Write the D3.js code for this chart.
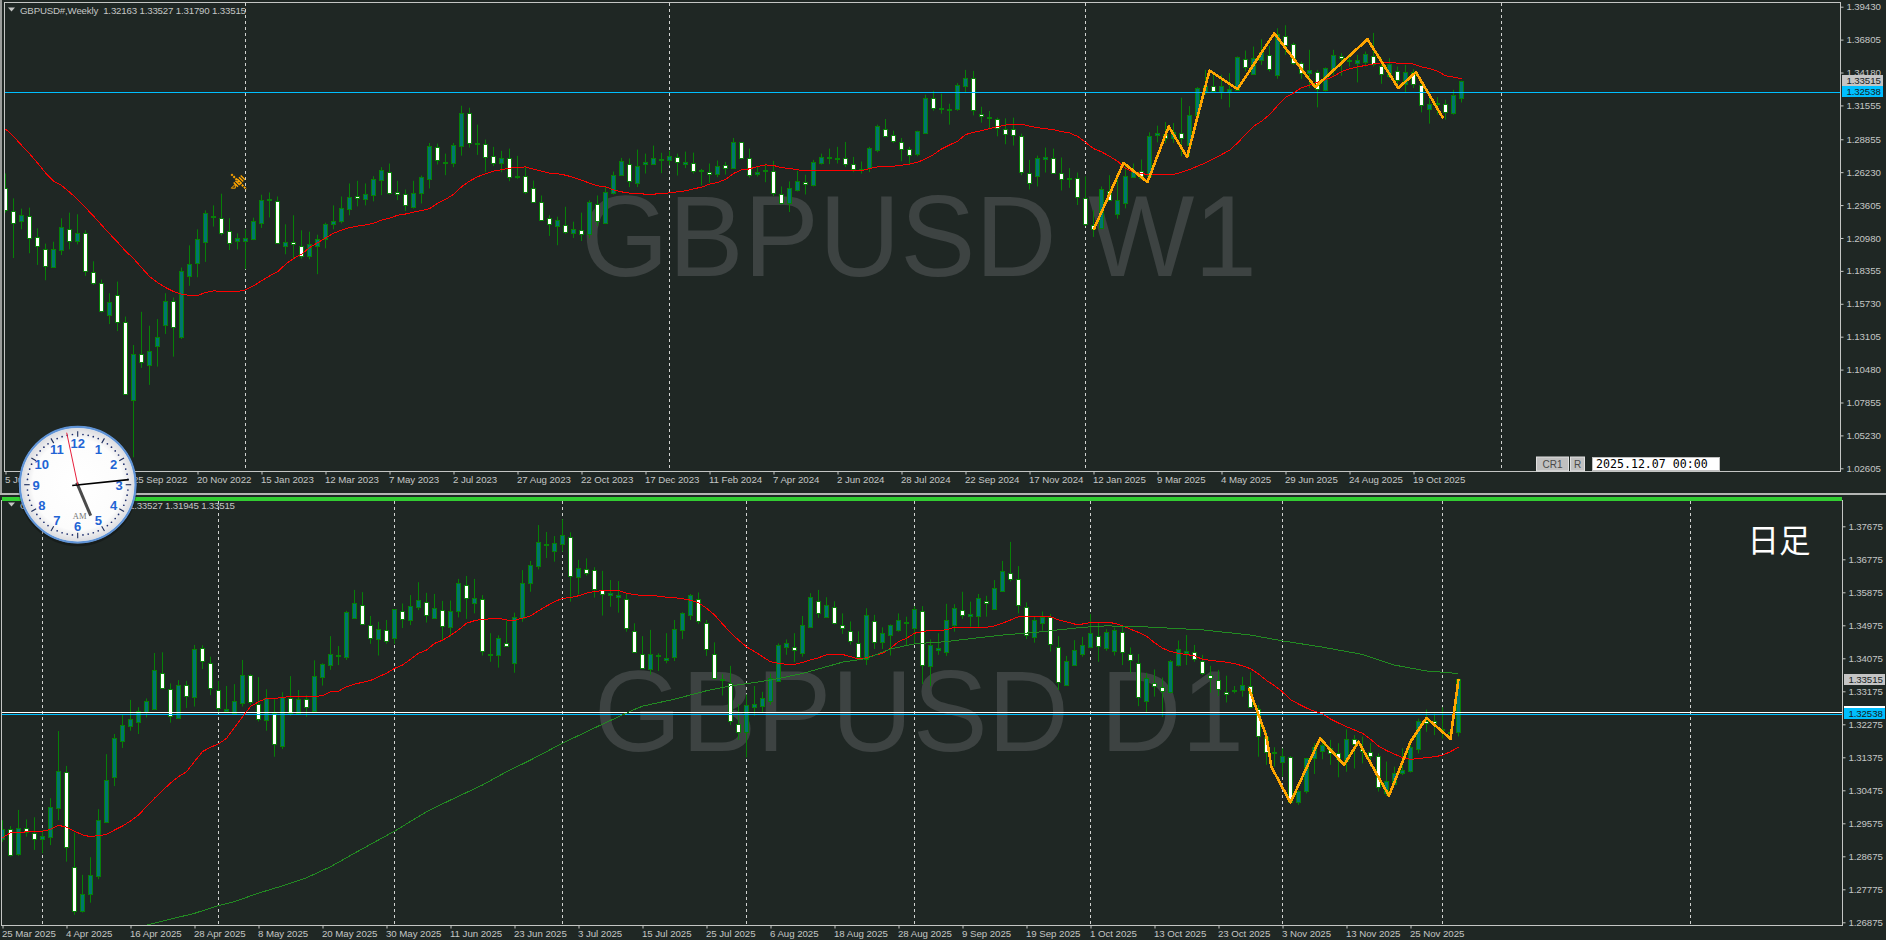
<!DOCTYPE html>
<html><head><meta charset="utf-8">
<script src="https://cdn.jsdelivr.net/npm/d3@7"></script>
<style>html,body{margin:0;padding:0;background:#1f2724;overflow:hidden}svg{display:block}</style>
</head><body><svg id="c" width="1886" height="940"></svg>
<script>
const weeklyOpen=[1.2496,1.2313,1.2234,1.2273,1.2108,1.2013,1.1870,1.2002,1.2173,1.2074,
1.2140,1.1827,1.1740,1.1485,1.1644,1.1424,1.0809,1.1170,1.1088,1.1239,
1.1406,1.1596,1.1310,1.1795,1.1899,1.2068,1.2268,1.2257,1.2153,1.2076,
1.2076,1.2087,1.2220,1.2400,1.2392,1.2037,1.2066,1.2034,1.1955,1.2034,
1.2092,1.2209,1.2233,1.2331,1.2432,1.2411,1.2440,1.2560,1.2628,1.2464,
1.2448,1.2345,1.2458,1.2570,1.2822,1.2697,1.2694,1.2832,1.3092,1.2848,
1.2846,1.2750,1.2694,1.2737,1.2583,1.2591,1.2496,1.2384,1.2257,1.2196,
1.2201,1.2137,1.2161,1.2132,1.2368,1.2217,1.2456,1.2599,1.2687,1.2536,
1.2689,1.2687,1.2721,1.2718,1.2742,1.2687,1.2697,1.2636,1.2623,1.2610,
1.2679,1.2657,1.2861,1.2734,1.2607,1.2634,1.2631,1.2448,1.2376,1.2480,
1.2543,1.2520,1.2694,1.2734,1.2729,1.2734,1.2687,1.2639,1.2655,1.2798,
1.2965,1.2917,1.2861,1.2806,1.2766,1.2933,1.3211,1.3129,1.3116,1.3124,
1.3307,1.3371,1.3084,1.3052,1.3045,1.2965,1.2965,1.2912,1.2618,1.2594,
1.2729,1.2737,1.2618,1.2570,1.2578,1.2419,1.2204,1.2180,1.2472,1.2292,
1.2376,1.2583,1.2631,1.2591,1.2920,1.2930,1.2899,1.2933,1.2838,1.3082,
1.3262,1.3307,1.3265,1.3259,1.3280,1.3522,1.3408,1.3519,1.3561,1.3402,
1.3707,1.3649,1.3493,1.3418,1.3426,1.3280,1.3439,1.3553,1.3506,1.3490,
1.3503,1.3546,1.3466,1.3394,1.3434,1.3328,1.3426,1.3320,1.3129,1.3164,
1.3164,1.3098,1.32163];
const weeklyHigh=[1.2613,1.2414,1.2332,1.2340,1.2175,1.2053,1.2068,1.2255,1.2300,1.2287,
1.2159,1.1912,1.1766,1.1657,1.1750,1.1471,1.1244,1.1509,1.1398,1.1451,
1.1657,1.1623,1.1862,1.2039,1.2167,1.2318,1.2358,1.2451,1.2255,1.2135,
1.2167,1.2260,1.2443,1.2461,1.2429,1.2207,1.2279,1.2159,1.2148,1.2124,
1.2220,1.2358,1.2429,1.2533,1.2554,1.2533,1.2591,1.2663,1.2692,1.2554,
1.2485,1.2554,1.2596,1.2856,1.2851,1.2771,1.2856,1.3153,1.3137,1.3002,
1.2883,1.2825,1.2793,1.2811,1.2753,1.2665,1.2556,1.2437,1.2279,1.2268,
1.2347,1.2228,1.2300,1.2398,1.2437,1.2511,1.2628,1.2737,1.2732,1.2803,
1.2771,1.2835,1.2777,1.2793,1.2771,1.2787,1.2779,1.2649,1.2692,1.2716,
1.2705,1.2896,1.2864,1.2811,1.2671,1.2692,1.2713,1.2509,1.2549,1.2634,
1.2602,1.2721,1.2771,1.2811,1.2825,1.2864,1.2745,1.2708,1.2825,1.3002,
1.3047,1.2954,1.2896,1.2825,1.2954,1.3241,1.3272,1.3249,1.3169,1.3333,
1.3439,1.3431,1.3145,1.3111,1.3058,1.3052,1.3058,1.2930,1.2721,1.2755,
1.2819,1.2811,1.2740,1.2655,1.2620,1.2589,1.2321,1.2509,1.2599,1.2618,
1.2697,1.2692,1.2724,1.2941,1.2994,1.3023,1.3015,1.3217,1.3150,1.3302,
1.3439,1.3413,1.3400,1.3413,1.3546,1.3593,1.3625,1.3683,1.3630,1.3771,
1.3795,1.3657,1.3506,1.3599,1.3439,1.3458,1.3599,1.3572,1.3546,1.3559,
1.3585,1.3734,1.3532,1.3532,1.3466,1.3479,1.3445,1.3333,1.3214,1.3222,
1.3201,1.3280,1.33527];
const weeklyLow=[1.2300,1.1938,1.2167,1.1976,1.1883,1.1761,1.1867,1.1962,1.2007,1.2047,
1.1795,1.1724,1.1504,1.1411,1.1355,1.0852,1.0348,1.1061,1.0926,1.1072,
1.1332,1.1151,1.1292,1.1716,1.1785,1.1907,1.2189,1.2119,1.2002,1.2007,
1.1849,1.2081,1.2178,1.2262,1.2053,1.1968,1.1928,1.1933,1.1928,1.1809,
1.2015,1.2167,1.2214,1.2279,1.2350,1.2358,1.2390,1.2440,1.2445,1.2400,
1.2313,1.2332,1.2373,1.2493,1.2684,1.2599,1.2663,1.2755,1.2819,1.2761,
1.2625,1.2671,1.2623,1.2551,1.2570,1.2448,1.2384,1.2236,1.2114,1.2040,
1.2130,1.2098,1.2074,1.2095,1.2193,1.2209,1.2445,1.2599,1.2504,1.2504,
1.2612,1.2687,1.2615,1.2676,1.2596,1.2655,1.2612,1.2517,1.2538,1.2583,
1.2604,1.2652,1.2726,1.2580,1.2588,1.2543,1.2432,1.2366,1.2305,1.2469,
1.2445,1.2509,1.2684,1.2687,1.2692,1.2663,1.2623,1.2612,1.2623,1.2782,
1.2901,1.2856,1.2710,1.2687,1.2750,1.2930,1.3113,1.3090,1.3002,1.3113,
1.3254,1.3076,1.3018,1.2967,1.2909,1.2846,1.2835,1.2599,1.2485,1.2509,
1.2620,1.2610,1.2477,1.2498,1.2361,1.2193,1.2106,1.2172,1.2392,1.2252,
1.2334,1.2578,1.2565,1.2578,1.2861,1.2856,1.2856,1.2750,1.2750,1.3068,
1.3241,1.3254,1.3206,1.3140,1.3275,1.3426,1.3400,1.3479,1.3426,1.3368,
1.3559,1.3479,1.3368,1.3294,1.3140,1.3267,1.3386,1.3392,1.3466,1.3339,
1.3466,1.3466,1.3328,1.3373,1.3294,1.3254,1.3294,1.3100,1.3010,1.3082,
1.3042,1.3082,1.31790];
const weeklyClose=[1.2321,1.2220,1.2284,1.2098,1.2034,1.1875,1.2013,1.2189,1.2076,1.2140,
1.1835,1.1742,1.1517,1.1591,1.1424,1.0857,1.1170,1.1106,1.1194,1.1305,
1.1599,1.1384,1.1838,1.1893,1.2092,1.2300,1.2273,1.2137,1.2060,1.2100,
1.2100,1.2236,1.2403,1.2411,1.2058,1.2068,1.2053,1.1952,1.2053,1.2092,
1.2212,1.2236,1.2339,1.2427,1.2419,1.2451,1.2570,1.2642,1.2458,1.2451,
1.2358,1.2458,1.2586,1.2832,1.2721,1.2702,1.2840,1.3095,1.2856,1.2856,
1.2747,1.2697,1.2737,1.2586,1.2594,1.2466,1.2387,1.2241,1.2212,1.2244,
1.2148,1.2172,1.2132,1.2387,1.2236,1.2466,1.2602,1.2713,1.2554,1.2673,
1.2705,1.2737,1.2729,1.2753,1.2708,1.2705,1.2634,1.2639,1.2610,1.2671,
1.2657,1.2864,1.2734,1.2602,1.2623,1.2642,1.2458,1.2376,1.2498,1.2554,
1.2530,1.2705,1.2745,1.2742,1.2737,1.2687,1.2649,1.2649,1.2817,1.2991,
1.2909,1.2872,1.2808,1.2761,1.2952,1.3214,1.3135,1.3135,1.3127,1.3318,
1.3373,1.3119,1.3071,1.3063,1.2973,1.2928,1.2920,1.2626,1.2538,1.2737,
1.2742,1.2618,1.2570,1.2578,1.2427,1.2212,1.2170,1.2490,1.2398,1.2403,
1.2594,1.2636,1.2578,1.2915,1.2936,1.2899,1.2944,1.2893,1.3079,1.3294,
1.3310,1.3270,1.3310,1.3286,1.3540,1.3461,1.3532,1.3580,1.3447,1.3726,
1.3638,1.3493,1.3413,1.3437,1.3286,1.3453,1.3556,1.3532,1.3519,1.3516,
1.3564,1.3485,1.3405,1.3485,1.3357,1.3426,1.3325,1.3161,1.3169,1.3175,
1.3103,1.3238,1.33515];
const weeklyMA=[1.2968,1.2909,1.2838,1.2771,1.2697,1.2618,1.2551,1.2517,1.2464,1.2406,
1.2340,1.2273,1.2202,1.2132,1.2066,1.1994,1.1934,1.1862,1.1791,1.1742,
1.1703,1.1671,1.1650,1.1639,1.1639,1.1663,1.1676,1.1673,1.1671,1.1671,
1.1684,1.1716,1.1756,1.1795,1.1827,1.1888,1.1934,1.1968,1.2021,1.2060,
1.2098,1.2135,1.2161,1.2180,1.2193,1.2202,1.2215,1.2241,1.2255,1.2279,
1.2289,1.2305,1.2316,1.2332,1.2374,1.2406,1.2445,1.2506,1.2551,1.2586,
1.2610,1.2631,1.2642,1.2655,1.2660,1.2665,1.2647,1.2631,1.2615,1.2610,
1.2599,1.2581,1.2559,1.2536,1.2514,1.2506,1.2482,1.2466,1.2456,1.2451,
1.2448,1.2448,1.2451,1.2458,1.2466,1.2474,1.2490,1.2503,1.2527,1.2541,
1.2565,1.2612,1.2642,1.2649,1.2668,1.2681,1.2676,1.2660,1.2652,1.2642,
1.2634,1.2634,1.2634,1.2634,1.2634,1.2634,1.2634,1.2636,1.2652,1.2665,
1.2671,1.2671,1.2679,1.2687,1.2702,1.2729,1.2763,1.2808,1.2840,1.2870,
1.2923,1.2941,1.2954,1.2970,1.2986,1.2999,1.3007,1.3005,1.2991,1.2978,
1.2970,1.2962,1.2946,1.2936,1.2909,1.2861,1.2811,1.2785,1.2750,1.2710,
1.2652,1.2625,1.2612,1.2602,1.2602,1.2602,1.2604,1.2623,1.2644,1.2671,
1.2697,1.2729,1.2763,1.2798,1.2856,1.2923,1.2989,1.3029,1.3082,1.3153,
1.3219,1.3254,1.3296,1.3318,1.3341,1.3360,1.3386,1.3426,1.3447,1.3463,
1.3474,1.3487,1.3495,1.3498,1.3493,1.3493,1.3485,1.3463,1.3450,1.3429,
1.3392,1.3381,1.3368];
const weeklyZigBars=[136,139.75,142.75,145.4,147.7,150.5,154,158.6,163.7,170.25,174.1,176.3,179.7];
const weeklyZigPrices=[1.2162,1.2697,1.2544,1.2988,1.2742,1.3434,1.3286,1.3731,1.3302,1.3683,1.3294,1.3421,1.3053];
const weeklySeparators=[30,83,135,187];
const weeklyTimeLabels=["5 Jun 2022","31 Jul 2022","25 Sep 2022","20 Nov 2022","15 Jan 2023","12 Mar 2023","7 May 2023","2 Jul 2023","27 Aug 2023","22 Oct 2023","17 Dec 2023","11 Feb 2024","7 Apr 2024","2 Jun 2024","28 Jul 2024","22 Sep 2024","17 Nov 2024","12 Jan 2025","9 Mar 2025","4 May 2025","29 Jun 2025","24 Aug 2025","19 Oct 2025"];
const weeklyPriceLabels=[1.39430,1.36805,1.34180,1.31555,1.28855,1.26230,1.23605,1.20980,1.18355,1.15730,1.13105,1.10480,1.07855,1.05230,1.02605];

const dailyOpen=[1.2916,1.2943,1.2875,1.2945,1.2932,1.2916,1.2921,1.2998,1.3098,1.2838,
1.2717,1.2764,1.2815,1.2962,1.3085,1.3183,1.3224,1.3235,1.3261,1.3270,
1.3368,1.3325,1.3246,1.3336,1.3301,1.3436,1.3396,1.3321,1.3264,1.3259,
1.3286,1.3363,1.3284,1.3240,1.3257,1.3167,1.3300,1.3259,1.3296,1.3264,
1.3357,1.3390,1.3415,1.3412,1.3518,1.3554,1.3497,1.3461,1.3486,1.3462,
1.3537,1.3513,1.3548,1.3562,1.3518,1.3540,1.3494,1.3537,1.3608,1.3559,
1.3570,1.3419,1.3417,1.3448,1.3396,1.3517,1.3612,1.3658,1.3716,1.3701,
1.3720,1.3739,1.3630,1.3652,1.3649,1.3593,1.3581,1.3576,1.3568,1.3483,
1.3420,1.3377,1.3416,1.3404,1.3412,1.3484,1.3525,1.3570,1.3505,1.3420,
1.3347,1.3341,1.3227,1.3206,1.3276,1.3278,1.3291,1.3346,1.3439,1.3439,
1.3422,1.3494,1.3565,1.3521,1.3548,1.3497,1.3483,1.3448,1.3405,1.3510,
1.3453,1.3472,1.3485,1.3503,1.3490,1.3537,1.3387,1.3431,1.3425,1.3499,
1.3540,1.3524,1.3524,1.3565,1.3543,1.3592,1.3641,1.3623,1.3548,1.3465,
1.3505,1.3521,1.3437,1.3336,1.3390,1.3420,1.3437,1.3469,1.3435,1.3428,
1.3480,1.3420,1.3394,1.3290,1.3341,1.3329,1.3316,1.3388,1.3423,1.3425,
1.3401,1.3363,1.3349,1.3316,1.3317,1.3322,1.3332,1.3270,1.3194,1.3148,
1.3126,1.3137,1.3016,1.3046,1.3135,1.3156,1.3163,1.3150,1.3128,1.3188,
1.3159,1.3153,1.3142,1.3039,1.3065,1.3094,1.3101,1.3161,1.3236,1.3236,
1.3216,1.3206,1.3206];
const dailyHigh=[1.2966,1.2950,1.2994,1.2968,1.2974,1.2939,1.3026,1.3209,1.3114,1.2932,
1.2817,1.2865,1.2996,1.3146,1.3201,1.3253,1.3294,1.3274,1.3298,1.3422,
1.3424,1.3339,1.3348,1.3346,1.3444,1.3443,1.3412,1.3346,1.3332,1.3337,
1.3403,1.3364,1.3356,1.3323,1.3296,1.3315,1.3359,1.3321,1.3307,1.3402,
1.3394,1.3468,1.3441,1.3537,1.3594,1.3588,1.3523,1.3507,1.3512,1.3541,
1.3557,1.3580,1.3615,1.3586,1.3583,1.3564,1.3565,1.3624,1.3632,1.3624,
1.3580,1.3476,1.3470,1.3510,1.3532,1.3648,1.3673,1.3771,1.3752,1.3741,
1.3787,1.3751,1.3676,1.3680,1.3656,1.3646,1.3621,1.3618,1.3585,1.3503,
1.3468,1.3485,1.3421,1.3476,1.3512,1.3533,1.3583,1.3587,1.3512,1.3451,
1.3365,1.3387,1.3283,1.3309,1.3332,1.3316,1.3366,1.3448,1.3459,1.3476,
1.3523,1.3585,1.3594,1.3574,1.3563,1.3530,1.3508,1.3481,1.3544,1.3526,
1.3492,1.3500,1.3530,1.3521,1.3550,1.3550,1.3459,1.3476,1.3556,1.3555,
1.3589,1.3562,1.3583,1.3578,1.3621,1.3673,1.3725,1.3659,1.3560,1.3521,
1.3535,1.3528,1.3468,1.3414,1.3457,1.3466,1.3528,1.3506,1.3487,1.3491,
1.3494,1.3437,1.3419,1.3368,1.3377,1.3355,1.3403,1.3456,1.3471,1.3444,
1.3417,1.3387,1.3376,1.3360,1.3332,1.3357,1.3370,1.3280,1.3207,1.3165,
1.3162,1.3141,1.3048,1.3135,1.3176,1.3189,1.3185,1.3176,1.3214,1.3198,
1.3194,1.3177,1.3148,1.3126,1.3112,1.3162,1.3185,1.3243,1.3268,1.3257,
1.3274,1.3212,1.33527];
const dailyLow=[1.2907,1.2867,1.2869,1.2921,1.2885,1.2876,1.2898,1.2966,1.2853,1.2708,
1.2714,1.2741,1.2805,1.2962,1.3059,1.3163,1.3210,1.3201,1.3246,1.3268,
1.3323,1.3232,1.3244,1.3272,1.3276,1.3378,1.3307,1.3259,1.3262,1.3257,
1.3276,1.3280,1.3235,1.3210,1.3139,1.3160,1.3251,1.3256,1.3248,1.3264,
1.3333,1.3376,1.3389,1.3403,1.3518,1.3498,1.3447,1.3415,1.3447,1.3447,
1.3490,1.3498,1.3539,1.3505,1.3518,1.3457,1.3467,1.3519,1.3515,1.3530,
1.3415,1.3398,1.3382,1.3439,1.3368,1.3507,1.3589,1.3650,1.3681,1.3671,
1.3698,1.3562,1.3582,1.3633,1.3573,1.3524,1.3548,1.3532,1.3480,1.3423,
1.3378,1.3363,1.3373,1.3394,1.3400,1.3460,1.3512,1.3501,1.3414,1.3350,
1.3306,1.3226,1.3185,1.3137,1.3251,1.3261,1.3281,1.3344,1.3417,1.3397,
1.3412,1.3491,1.3518,1.3519,1.3500,1.3474,1.3445,1.3403,1.3389,1.3433,
1.3433,1.3415,1.3480,1.3442,1.3448,1.3337,1.3332,1.3417,1.3414,1.3480,
1.3515,1.3494,1.3492,1.3521,1.3541,1.3589,1.3617,1.3530,1.3460,1.3450,
1.3483,1.3426,1.3321,1.3334,1.3388,1.3412,1.3435,1.3398,1.3428,1.3415,
1.3389,1.3366,1.3277,1.3261,1.3303,1.3248,1.3312,1.3385,1.3389,1.3398,
1.3362,1.3314,1.3305,1.3287,1.3312,1.3303,1.3271,1.3139,1.3117,1.3112,
1.3085,1.3012,1.3008,1.3039,1.3092,1.3132,1.3117,1.3083,1.3098,1.3107,
1.3121,1.3112,1.3044,1.3032,1.3061,1.3089,1.3096,1.3148,1.3207,1.3198,
1.3189,1.3189,1.31945];
const dailyClose=[1.2943,1.2871,1.2946,1.2935,1.2916,1.2922,1.3001,1.3099,1.2892,1.2718,
1.2764,1.2816,1.2966,1.3076,1.3190,1.3225,1.3241,1.3263,1.3290,1.3375,
1.3326,1.3250,1.3336,1.3304,1.3432,1.3399,1.3326,1.3271,1.3268,1.3290,
1.3361,1.3287,1.3242,1.3300,1.3173,1.3303,1.3257,1.3296,1.3276,1.3358,
1.3391,1.3418,1.3417,1.3533,1.3557,1.3500,1.3462,1.3487,1.3455,1.3541,
1.3515,1.3549,1.3566,1.3525,1.3544,1.3496,1.3537,1.3612,1.3571,1.3571,
1.3427,1.3416,1.3462,1.3440,1.3521,1.3612,1.3661,1.3724,1.3718,1.3721,
1.3743,1.3631,1.3653,1.3639,1.3596,1.3582,1.3585,1.3579,1.3489,1.3426,
1.3380,1.3418,1.3417,1.3407,1.3488,1.3530,1.3579,1.3508,1.3432,1.3353,
1.3350,1.3236,1.3206,1.3279,1.3282,1.3298,1.3355,1.3443,1.3448,1.3429,
1.3497,1.3574,1.3530,1.3552,1.3503,1.3489,1.3454,1.3412,1.3525,1.3451,
1.3476,1.3498,1.3511,1.3506,1.3541,1.3388,1.3443,1.3435,1.3511,1.3544,
1.3526,1.3527,1.3571,1.3557,1.3598,1.3645,1.3623,1.3552,1.3471,1.3511,
1.3521,1.3446,1.3342,1.3399,1.3429,1.3443,1.3476,1.3440,1.3478,1.3484,
1.3425,1.3402,1.3301,1.3355,1.3332,1.3318,1.3399,1.3432,1.3427,1.3405,
1.3367,1.3353,1.3324,1.3311,1.3321,1.3334,1.3275,1.3196,1.3152,1.3151,
1.3140,1.3016,1.3046,1.3135,1.3165,1.3171,1.3150,1.3132,1.3187,1.3174,
1.3156,1.3141,1.3056,1.3072,1.3096,1.3103,1.3165,1.3236,1.3232,1.3232,
1.3212,1.3207,1.33515];
const dailyMA=[1.2918,1.2932,1.2933,1.2934,1.2935,1.2936,1.2941,1.2952,1.2947,1.2936,
1.2926,1.2921,1.2924,1.2927,1.2939,1.2950,1.2964,1.2980,1.3003,1.3026,
1.3047,1.3067,1.3085,1.3098,1.3126,1.3153,1.3165,1.3174,1.3189,1.3219,
1.3248,1.3276,1.3289,1.3298,1.3298,1.3301,1.3303,1.3303,1.3303,1.3303,
1.3306,1.3316,1.3318,1.3330,1.3337,1.3342,1.3347,1.3357,1.3367,1.3380,
1.3389,1.3405,1.3421,1.3430,1.3448,1.3457,1.3470,1.3485,1.3503,1.3510,
1.3514,1.3515,1.3517,1.3512,1.3511,1.3517,1.3523,1.3537,1.3550,1.3562,
1.3571,1.3573,1.3578,1.3585,1.3590,1.3592,1.3592,1.3592,1.3585,1.3581,
1.3579,1.3579,1.3577,1.3574,1.3573,1.3570,1.3566,1.3559,1.3544,1.3526,
1.3501,1.3478,1.3457,1.3439,1.3426,1.3412,1.3398,1.3394,1.3391,1.3391,
1.3396,1.3403,1.3409,1.3417,1.3418,1.3418,1.3412,1.3406,1.3409,1.3416,
1.3421,1.3435,1.3453,1.3462,1.3476,1.3480,1.3484,1.3484,1.3485,1.3492,
1.3492,1.3492,1.3492,1.3492,1.3496,1.3503,1.3512,1.3521,1.3521,1.3521,
1.3522,1.3521,1.3512,1.3507,1.3501,1.3501,1.3505,1.3506,1.3506,1.3503,
1.3496,1.3487,1.3478,1.3468,1.3450,1.3435,1.3426,1.3421,1.3418,1.3414,
1.3405,1.3402,1.3399,1.3397,1.3393,1.3387,1.3379,1.3365,1.3347,1.3333,
1.3316,1.3295,1.3283,1.3272,1.3263,1.3256,1.3242,1.3231,1.3221,1.3212,
1.3203,1.3187,1.3168,1.3156,1.3146,1.3137,1.3132,1.3134,1.3137,1.3139,
1.3143,1.3153,1.3165];
const dailyLongBars=[18,24,27,29,32,35,38,41,44,49,53,56,60,63,66,70,75,79,80,84,88,91,96,100,105,108,111,114,118,119,125,129,135,138,143,150,156,160,165,170,174,178,182];
const dailyLongPrices=[1.2680,1.2712,1.2733,1.2744,1.2767,1.2787,1.2809,1.2839,1.2876,1.2936,1.2989,1.3021,1.3062,1.3098,1.3130,1.3176,1.3228,1.3268,1.3277,1.3296,1.3319,1.3332,1.3348,1.3366,1.3397,1.3407,1.3433,1.3447,1.3453,1.3456,1.3471,1.3478,1.3492,1.3496,1.3493,1.3485,1.3471,1.3455,1.3438,1.3418,1.3389,1.3373,1.3366];
const dailyZigBars=[155.8,158,158.6,161,164.7,167.7,169.5,173.3,176,178,181,182];
const dailyZigPrices=[1.3326,1.3194,1.3112,1.3014,1.3189,1.3117,1.3180,1.3033,1.3180,1.3245,1.3188,1.3351];
const dailySeparators=[5,27,49,70,93,114,136,160,180,211];
const dailyTimeLabels=["25 Mar 2025","4 Apr 2025","16 Apr 2025","28 Apr 2025","8 May 2025","20 May 2025","30 May 2025","11 Jun 2025","23 Jun 2025","3 Jul 2025","15 Jul 2025","25 Jul 2025","6 Aug 2025","18 Aug 2025","28 Aug 2025","9 Sep 2025","19 Sep 2025","1 Oct 2025","13 Oct 2025","23 Oct 2025","3 Nov 2025","13 Nov 2025","25 Nov 2025"];
const dailyPriceLabels=[1.37675,1.36775,1.35875,1.34975,1.34075,1.33175,1.32275,1.31375,1.30475,1.29575,1.28675,1.27775,1.26875];
const bidPrice=1.33515, levelPrice=1.32538, dailyWhiteLevel=1.32601;

const BG="#1f2724",FRAME="#c4c6c4",TXT="#c4c6c4",WICK="#078007",TEAL="#007570",BLUE="#00bfff",RED="#ff0000",LONG="#228b22",ORANGE="#ffa500";
const FONT="'Liberation Sans',Arial,sans-serif";
const svg=d3.select("#c");
const defs=svg.append("defs");
svg.append("rect").attr("width",1886).attr("height",940).attr("fill",BG);

function chart(o){
  const x=d3.scaleLinear().domain([0,182]).range([o.x0,o.x0+1456]);
  const y=d3.scaleLinear().domain([o.labels[0],o.labels[o.labels.length-1]]).range(o.yr);
  const cid="clip"+o.id;
  defs.append("clipPath").attr("id",cid).append("rect").attr("x",o.l).attr("y",o.t).attr("width",o.r-o.l).attr("height",o.b-o.t);
  const g=svg.append("g");
  const p=g.append("g").attr("clip-path",`url(#${cid})`);
  p.append("text").attr("x",o.wx).attr("y",o.wy).attr("fill","#3d4342").attr("font-family",FONT).attr("font-size",115)
    .attr("textLength",o.ww).attr("lengthAdjust","spacingAndGlyphs").text(o.wm);
  p.selectAll(".sep").data(o.seps).join("line").attr("x1",d=>x(d)).attr("x2",d=>x(d)).attr("y1",o.t).attr("y2",o.b)
    .attr("stroke","#d0d2d0").attr("stroke-dasharray","3,3");
  const idx=d3.range(183);
  const c=p.append("g").selectAll("g").data(idx).join("g");
  c.append("line").attr("x1",i=>x(i)).attr("x2",i=>x(i)).attr("y1",i=>y(o.H[i])).attr("y2",i=>y(o.L[i])).attr("stroke",WICK);
  c.append("rect").attr("x",i=>x(i)-2).attr("width",4)
    .attr("y",i=>Math.round(y(Math.max(o.O[i],o.C[i])))+.5)
    .attr("height",i=>Math.max(1,Math.round(y(Math.min(o.O[i],o.C[i])))-Math.round(y(Math.max(o.O[i],o.C[i])))))
    .attr("fill",i=>o.C[i]>=o.O[i]?TEAL:"#fff").attr("stroke",WICK).attr("stroke-width",1);
  const row=v=>Math.floor(y(v))+.5;
  if(o.white!==undefined) p.append("line").attr("x1",o.l).attr("x2",o.r).attr("y1",row(o.white)).attr("y2",row(o.white)).attr("stroke","#fff");
  p.append("line").attr("x1",o.l).attr("x2",o.r).attr("y1",row(levelPrice)+o.lvlDy).attr("y2",row(levelPrice)+o.lvlDy).attr("stroke",BLUE).attr("stroke-width",1);
  const lineI=d3.line().x(i=>x(i)).y(i=>y(o.MA[i]));
  p.append("path").attr("d",lineI(idx)).attr("fill","none").attr("stroke",RED).attr("stroke-width",1).attr("shape-rendering","crispEdges");
  if(o.longB){
    const ln=d3.line().x((d,i)=>x(d)).y((d,i)=>y(o.longP[i]));
    p.append("path").attr("d",ln(o.longB)).attr("fill","none").attr("stroke",LONG).attr("stroke-width",1).attr("shape-rendering","crispEdges");
  }
  const zz=d3.line().x(d=>x(d)).y((d,i)=>y(o.zigP[i]));
  p.append("path").attr("d",zz(o.zigB)).attr("fill","none").attr("stroke",ORANGE).attr("stroke-width",2.6).attr("stroke-linejoin","round").attr("shape-rendering","crispEdges");
  g.append("rect").attr("x",o.l-.5).attr("y",o.t-.5).attr("width",o.r-o.l+1).attr("height",o.b-o.t+1).attr("fill","none").attr("stroke",FRAME);
  const ay=g.append("g").attr("transform",`translate(${o.r+.5},0)`).call(d3.axisRight(y).tickValues(o.labels).tickSize(3).tickPadding(3).tickFormat(d3.format(".5f")));
  ay.select(".domain").remove();
  ay.selectAll("line").attr("stroke",FRAME);
  ay.selectAll("text").attr("fill",TXT).attr("font-family",FONT).attr("font-size",o.fs).attr("letter-spacing",-0.12);
  const tb=o.timeLabels.map((_,i)=>i*8);
  const ax=g.append("g").attr("transform",`translate(0,${o.b+.5})`).call(d3.axisBottom(x).tickValues(tb).tickSize(3).tickPadding(2).tickFormat((d,i)=>o.timeLabels[i]));
  ax.select(".domain").remove();
  ax.selectAll("line").attr("stroke",FRAME);
  ax.selectAll("text").attr("fill",TXT).attr("font-family",FONT).attr("font-size",o.fs).attr("letter-spacing",-0.05).attr("text-anchor","start").attr("x",-1);
  g.append("path").attr("d",`M8 ${o.ht-3}h7l-3.5 4z`).attr("fill",TXT);
  g.append("text").attr("x",20).attr("y",o.ht+3.5).attr("fill",TXT).attr("font-family",FONT).attr("font-size",o.fs)
    .style("white-space","pre").attr("textLength",o.headW).text(o.head);
  const tag=(v,fill)=>{
    const yy=o.tagY(v);
    g.append("rect").attr("x",o.r+2).attr("y",yy-5.5).attr("width",41).attr("height",11).attr("fill",fill);
    g.append("text").attr("x",o.r+6.5).attr("y",yy+3.5).attr("fill","#14201c").attr("font-family",FONT).attr("font-size",o.fs).attr("letter-spacing",-0.12).text(d3.format(".5f")(v));
  };
  tag(bidPrice,"#c4c4c4");
  tag(levelPrice,BLUE);
  return {x,y,g};
}

svg.append("rect").attr("x",0).attr("y",0).attr("width",2).attr("height",493).attr("fill","#9a9c9a");
svg.append("rect").attr("x",0).attr("y",493).attr("width",1886).attr("height",2).attr("fill","#b4b6b4");

const up=chart({id:"w",x0:5.5,l:5,r:1840,t:3,b:471,yr:[6.7,468.3],labels:weeklyPriceLabels,
  O:weeklyOpen,H:weeklyHigh,L:weeklyLow,C:weeklyClose,MA:weeklyMA,zigB:weeklyZigBars,zigP:weeklyZigPrices,
  seps:weeklySeparators,timeLabels:weeklyTimeLabels,wm:"GBPUSD W1",wx:581,wy:275.7,ww:676,fs:9.7,lvlDy:-1,ht:10.5,headW:226,
  head:"GBPUSD#,Weekly  1.32163 1.33527 1.31790 1.33515",
  tagY:v=>v===bidPrice?80.5:91.5});
const low=chart({id:"d",x0:2.5,l:2,r:1842,t:501,b:925,yr:[526.3,922.3],labels:dailyPriceLabels,
  O:dailyOpen,H:dailyHigh,L:dailyLow,C:dailyClose,MA:dailyMA,zigB:dailyZigBars,zigP:dailyZigPrices,longB:dailyLongBars,longP:dailyLongPrices,white:dailyWhiteLevel,
  seps:dailySeparators,timeLabels:dailyTimeLabels,wm:"GBPUSD D1",wx:594,wy:750.7,ww:650,fs:9.7,lvlDy:0,ht:505.5,headW:215,
  head:"GBPUSD#,Daily  1.32063 1.33527 1.31945 1.33515",
  tagY:v=>v===bidPrice?679.5:713.5});
svg.append("rect").attr("x",2).attr("y",497).attr("width",1840).attr("height",4).attr("fill","#32cd32");
svg.append("rect").attr("x",1844).attr("y",706).attr("width",41).attr("height",2).attr("fill","#fff");
svg.append("text").attr("x",1747.5).attr("y",552).attr("fill","#fff").attr("font-family","'Noto Sans CJK JP'").attr("font-size",31.5).text("日足");

const btn=(x,w,t)=>{svg.append("rect").attr("x",x).attr("y",457).attr("width",w).attr("height",14).attr("fill","#c0c0c0").attr("stroke","#e0e0e0");
  svg.append("text").attr("x",x+w/2).attr("y",468).attr("text-anchor","middle").attr("fill","#4a4a4a").attr("font-family",FONT).attr("font-size",10).text(t);};
btn(1536.5,32,"CR1");btn(1570.5,14,"R");
svg.append("rect").attr("x",1592.5).attr("y",457.5).attr("width",127).attr("height",13).attr("fill","#fff").attr("stroke","#c0c0c0");
svg.append("text").attr("x",1596).attr("y",468).attr("fill","#000").attr("font-family","'DejaVu Sans Mono'").attr("font-size",11.6).text("2025.12.07 00:00");

{
  const ix=up.x(29.1),iy=up.y(1.2551);
  const ic=svg.append("g").attr("transform",`translate(${ix},${iy})`).attr("fill","none").attr("stroke",ORANGE);
  ic.append("path").attr("d","M-7 -7L8 8").attr("stroke-width",2).attr("stroke-dasharray","2,1");
  ic.append("path").attr("d","M-3 4L5 -4").attr("stroke-width",6).attr("stroke-dasharray","1.5,1");
  ic.append("path").attr("d","M-7 7h4v-4l-4 4z").attr("stroke-width",1);
}

{
  const cx=77.7,cy=484.7,R=58.5;
  const gr=defs.append("radialGradient").attr("id","face");
  gr.append("stop").attr("offset","0%").attr("stop-color","#ffffff");
  gr.append("stop").attr("offset","80%").attr("stop-color","#fcfcfc");
  gr.append("stop").attr("offset","100%").attr("stop-color","#dcdce0");
  const ck=svg.append("g").attr("transform",`translate(${cx},${cy})`);
  ck.append("circle").attr("cy",2).attr("r",R+1).attr("fill","#000").attr("opacity",.25);
  ck.append("circle").attr("r",R).attr("fill","#d8e6f6");
  ck.append("circle").attr("r",R-.7).attr("fill","none").attr("stroke","#5f93d6").attr("stroke-width",2.2);
  ck.append("circle").attr("r",R-2).attr("fill","url(#face)");
  const ang=d=>d*Math.PI/180;
  d3.range(60).forEach(m=>{
    const a=ang(m*6),s=Math.sin(a),c=-Math.cos(a);
    if(m%5===0) ck.append("line").attr("x1",48*s).attr("y1",48*c).attr("x2",53.5*s).attr("y2",53.5*c).attr("stroke","#1c2c5c").attr("stroke-width",1.1);
    else ck.append("circle").attr("cx",50.5*s).attr("cy",50.5*c).attr("r",.85).attr("fill","#1c2c6c");
  });
  d3.range(1,13).forEach(h=>{
    const a=ang(h*30);
    ck.append("text").attr("x",41.5*Math.sin(a)).attr("y",-41.5*Math.cos(a)+4.8).attr("text-anchor","middle").attr("fill","#2264d4")
      .attr("font-family",FONT).attr("font-weight","bold").attr("font-size",13).text(h);
  });
  ck.append("text").attr("x",2).attr("y",34.5).attr("text-anchor","middle").attr("fill","#777").attr("font-family","'Liberation Serif'").attr("font-size",8.5).text("AM");
  ck.append("line").attr("x1",-1).attr("y1",-2).attr("x2",13).attr("y2",31).attr("stroke","#4a4a4a").attr("stroke-width",3);
  ck.append("line").attr("x1",-5.5).attr("y1",.8).attr("x2",51).attr("y2",-5).attr("stroke","#000").attr("stroke-width",1.7);
  ck.append("line").attr("x1",0).attr("y1",0).attr("x2",-11).attr("y2",-52).attr("stroke","#e8203c").attr("stroke-width",1);
}
</script></body></html>
